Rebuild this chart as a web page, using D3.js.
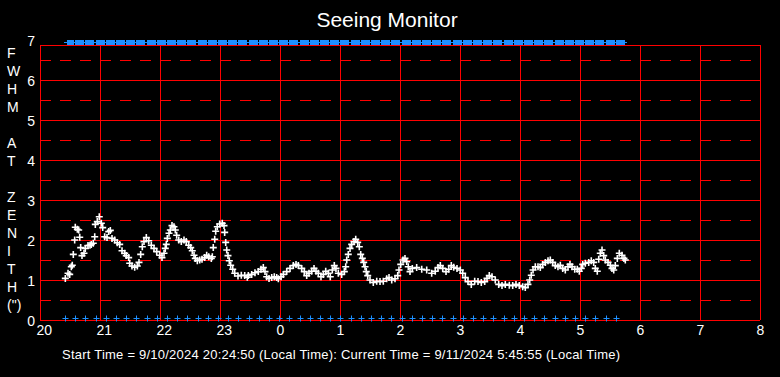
<!DOCTYPE html>
<html><head><meta charset="utf-8">
<script src="https://cdn.jsdelivr.net/npm/d3@7"></script>
<style>
body{margin:0;background:#000;}
svg{display:block;background:#000;}
text{font-family:"Liberation Sans",Arial,sans-serif;fill:#fff;}
</style>
</head><body>
<svg id="chart" width="780" height="377"></svg>
<script>
// ---- data ----
const chartTitle = "Seeing Monitor";
const yAxisTitle = ["F","W","H","M","","A","T","","Z","E","N","I","T","H","(\")"];
const footerText = "Start Time = 9/10/2024 20:24:50 (Local Time): Current Time = 9/11/2024 5:45:55 (Local Time)";
const xTickValues = [20,21,22,23,24,25,26,27,28,29,30,31,32];
const xTickLabels = ["20","21","22","23","0","1","2","3","4","5","6","7","8"];
const yTickValues = [0,1,2,3,4,5,6,7];
const yTickLabels = ["0","1","2","3","4","5","6","7"];

// seeing measurements: time (hours, continuing past midnight) and FWHM (arcsec)
const seeingTimes = [
20.422,20.467,20.495,20.522,20.538,20.555,20.578,20.588,20.622,20.645,20.662,20.678,20.700,20.733,20.755,20.800,20.833,20.855,20.888,20.912,
20.922,20.955,20.988,21.022,21.045,21.078,21.117,21.145,21.172,21.200,21.245,21.288,21.328,21.367,21.412,21.438,21.478,21.495,21.533,21.578,
21.622,21.650,21.678,21.705,21.733,21.772,21.812,21.855,21.900,21.945,21.995,22.033,22.067,22.088,22.105,22.122,22.150,22.172,22.200,22.233,
22.255,22.278,22.312,22.355,22.400,22.438,22.478,22.512,22.538,22.567,22.588,22.622,22.662,22.700,22.745,22.778,22.812,22.855,22.872,22.888,
22.912,22.928,22.955,22.995,23.038,23.067,23.078,23.095,23.112,23.133,23.155,23.178,23.212,23.245,23.300,23.355,23.412,23.455,23.472,23.528,
23.583,23.638,23.683,23.722,23.750,23.778,23.817,23.862,23.905,23.945,23.972,24.017,24.055,24.112,24.167,24.222,24.267,24.305,24.362,24.405,
24.445,24.483,24.528,24.567,24.600,24.638,24.683,24.722,24.762,24.805,24.838,24.872,24.905,24.933,24.972,25.028,25.072,25.095,25.112,25.138,
25.167,25.195,25.233,25.262,25.295,25.322,25.345,25.372,25.395,25.417,25.438,25.462,25.500,25.555,25.612,25.667,25.722,25.778,25.817,25.862,
25.917,25.962,25.983,26.012,26.050,26.083,26.112,26.138,26.167,26.205,26.278,26.362,26.445,26.528,26.588,26.633,26.672,26.712,26.767,26.812,
26.855,26.895,26.950,27.005,27.045,27.088,27.133,27.188,27.245,27.300,27.355,27.412,27.450,27.488,27.533,27.588,27.645,27.700,27.755,27.822,
27.878,27.933,27.988,28.045,28.088,28.133,28.162,28.188,28.217,28.255,28.300,28.338,28.378,28.422,28.467,28.505,28.545,28.588,28.633,28.672,
28.712,28.755,28.800,28.833,28.867,28.912,28.955,28.988,29.022,29.045,29.088,29.145,29.188,29.228,29.255,29.288,29.312,29.338,29.367,29.395,
29.422,29.467,29.505,29.533,29.562,29.588,29.622,29.655,29.700,29.733,29.755
];
const seeingFwhm = [
1.04,1.17,1.14,1.33,1.37,1.64,2.00,2.32,2.27,2.25,2.07,1.81,1.61,1.67,1.79,1.86,1.87,1.89,1.92,2.08,
2.39,2.46,2.58,2.42,2.31,2.08,2.06,2.21,2.24,2.04,2.00,1.93,1.89,1.73,1.67,1.61,1.56,1.42,1.35,1.32,
1.35,1.44,1.64,1.83,1.96,2.06,1.98,1.87,1.79,1.71,1.62,1.56,1.67,1.79,1.89,2.04,2.17,2.25,2.36,2.33,
2.25,2.12,2.00,1.96,2.00,1.96,1.87,1.81,1.73,1.62,1.54,1.48,1.50,1.52,1.56,1.62,1.58,1.54,1.58,1.81,
2.02,2.22,2.33,2.40,2.42,2.36,2.19,1.94,1.75,1.61,1.48,1.37,1.27,1.17,1.10,1.12,1.11,1.07,1.11,1.14,
1.18,1.21,1.27,1.31,1.21,1.08,1.04,1.06,1.08,1.06,1.03,1.08,1.14,1.21,1.29,1.36,1.39,1.36,1.29,1.21,
1.11,1.17,1.22,1.29,1.22,1.17,1.08,1.14,1.22,1.17,1.08,1.25,1.36,1.29,1.17,1.14,1.21,1.33,1.50,1.64,
1.79,1.89,1.96,2.02,1.94,1.83,1.64,1.54,1.44,1.33,1.21,1.11,1.00,0.94,0.97,0.96,0.97,1.03,1.06,1.00,
1.03,1.11,1.25,1.39,1.50,1.54,1.46,1.33,1.21,1.29,1.31,1.27,1.25,1.17,1.22,1.31,1.36,1.29,1.21,1.27,
1.36,1.32,1.29,1.25,1.17,1.06,0.96,0.89,0.97,0.96,0.94,0.96,1.04,1.11,1.08,1.00,0.89,0.86,0.89,0.87,
0.86,0.89,0.86,0.83,0.81,0.89,1.00,1.12,1.25,1.33,1.33,1.31,1.39,1.44,1.48,1.50,1.44,1.36,1.33,1.37,
1.29,1.25,1.33,1.39,1.33,1.27,1.27,1.22,1.29,1.39,1.42,1.44,1.48,1.44,1.29,1.22,1.52,1.67,1.75,1.61,
1.50,1.44,1.37,1.29,1.25,1.36,1.54,1.67,1.62,1.54,1.50
];

// blue sample markers (times in hours)
const sampleTimes = [
20.417,20.587,20.757,20.927,21.097,21.267,21.437,21.607,21.777,21.947,
22.117,22.287,22.457,22.627,22.797,22.967,23.137,23.307,23.477,23.647,
23.817,23.987,24.157,24.327,24.497,24.667,24.837,25.007,25.177,25.347,
25.517,25.687,25.857,26.027,26.197,26.367,26.537,26.707,26.877,27.047,
27.217,27.387,27.557,27.727,27.897,28.067,28.237,28.407,28.577,28.747,
28.917,29.087,29.257,29.427,29.597
];
const sampleTopLevel = 6.94;
const sampleBottomLevel = 0.05;
const plotTopValue = 6.875;

// ---- drawing ----
const svg = d3.select("#chart");
const W = 780, H = 377;
const m = {left:40, right:20, top:40, bottom:57};
const x = d3.scaleLinear().domain([20,32]).range([m.left, W - m.right]);
const y = d3.scaleLinear().domain([0,7]).range([H - m.bottom, m.top]);
const red = "#ff0000", blue = "#1e90ff";

svg.append("rect").attr("width",W).attr("height",H).attr("fill","#000");

const grid = svg.append("g").attr("shape-rendering","crispEdges");
const halfVals = d3.range(0.5, 7, 1);
grid.selectAll("line.dash").data(halfVals).join("line")
  .attr("x1", x(20)).attr("x2", x(32))
  .attr("y1", d=>Math.round(y(d))).attr("y2", d=>Math.round(y(d)))
  .attr("stroke", red).attr("stroke-width",1).attr("stroke-dasharray","11,9");
const solidVals = [0,1,2,3,4,5,6,plotTopValue];
grid.selectAll("line.solid").data(solidVals).join("line")
  .attr("x1", x(20)).attr("x2", x(32))
  .attr("y1", d=>Math.round(y(d))).attr("y2", d=>Math.round(y(d)))
  .attr("stroke", red).attr("stroke-width",1);
grid.selectAll("line.v").data(xTickValues).join("line")
  .attr("x1", d=>Math.round(x(d))).attr("x2", d=>Math.round(x(d)))
  .attr("y1", Math.round(y(plotTopValue))).attr("y2", Math.round(y(0)))
  .attr("stroke", red).attr("stroke-width",1);

// x axis labels
const xAxis = d3.axisBottom(x).tickValues(xTickValues)
  .tickFormat((d,i)=>xTickLabels[i]).tickSize(0).tickPadding(0);
const gx = svg.append("g").attr("transform",`translate(0,${y(0)})`).call(xAxis);
gx.select(".domain").remove();
gx.selectAll("text").attr("font-size",14).attr("font-family","Liberation Sans, Arial, sans-serif")
  .attr("fill","#fff").attr("text-anchor","start").attr("x",-4).attr("y",15).attr("dy",0);

// y axis labels
const yAxis = d3.axisLeft(y).tickValues(yTickValues)
  .tickFormat((d,i)=>yTickLabels[i]).tickSize(0).tickPadding(5);
const gy = svg.append("g").attr("transform",`translate(${x(20)},0)`).call(yAxis);
gy.select(".domain").remove();
gy.selectAll("text").attr("font-size",14).attr("font-family","Liberation Sans, Arial, sans-serif")
  .attr("fill","#fff").attr("dy","0.36em");

// vertical y title (letters stacked)
svg.append("g").selectAll("text").data(yAxisTitle).join("text")
  .attr("x",7).attr("y",(d,i)=>58 + i*18)
  .attr("font-size",14).text(d=>d);

// title
svg.append("text").attr("x",387).attr("y",27).attr("text-anchor","middle")
  .attr("font-size",21).text(chartTitle);

// footer
svg.append("text").attr("x",62).attr("y",359).attr("font-size",13)
  .attr("textLength",558).attr("lengthAdjust","spacing").text(footerText);

// blue sample markers: top row blocks
const topG = svg.append("g").attr("shape-rendering","crispEdges");
topG.append("line")
  .attr("x1", x(seeingTimes[0]) - 1).attr("x2", x(seeingTimes[seeingTimes.length-1]) + 2)
  .attr("y1", Math.round(y(sampleTopLevel))).attr("y2", Math.round(y(sampleTopLevel)))
  .attr("stroke", blue).attr("stroke-width",1);
topG.selectAll("rect").data(sampleTimes).join("rect")
  .attr("x", (d,i)=> i===0 ? x(d)+2 : x(d))
  .attr("width", (d,i)=> i===0 ? 7 : 9)
  .attr("y", y(sampleTopLevel) - 2.5).attr("height",5)
  .attr("fill", blue);

// bottom row plus markers
const plusSmall = "M-3,0H3M0,-3V3";
svg.append("g").selectAll("path").data(sampleTimes).join("path")
  .attr("transform", d=>`translate(${Math.round(x(d))+0.5},${Math.round(y(sampleBottomLevel))+0.5})`)
  .attr("d", plusSmall).attr("stroke", blue).attr("stroke-width",1).attr("fill","none");

// white seeing markers
const plus = "M-3.5,0H3.5M0,-3.5V3.5";
svg.append("g").selectAll("path").data(seeingTimes).join("path")
  .attr("transform", (d,i)=>`translate(${x(d)},${y(seeingFwhm[i])})`)
  .attr("d", plus).attr("stroke", "#fff").attr("stroke-width",1.6).attr("fill","none");
</script>
</body></html>
